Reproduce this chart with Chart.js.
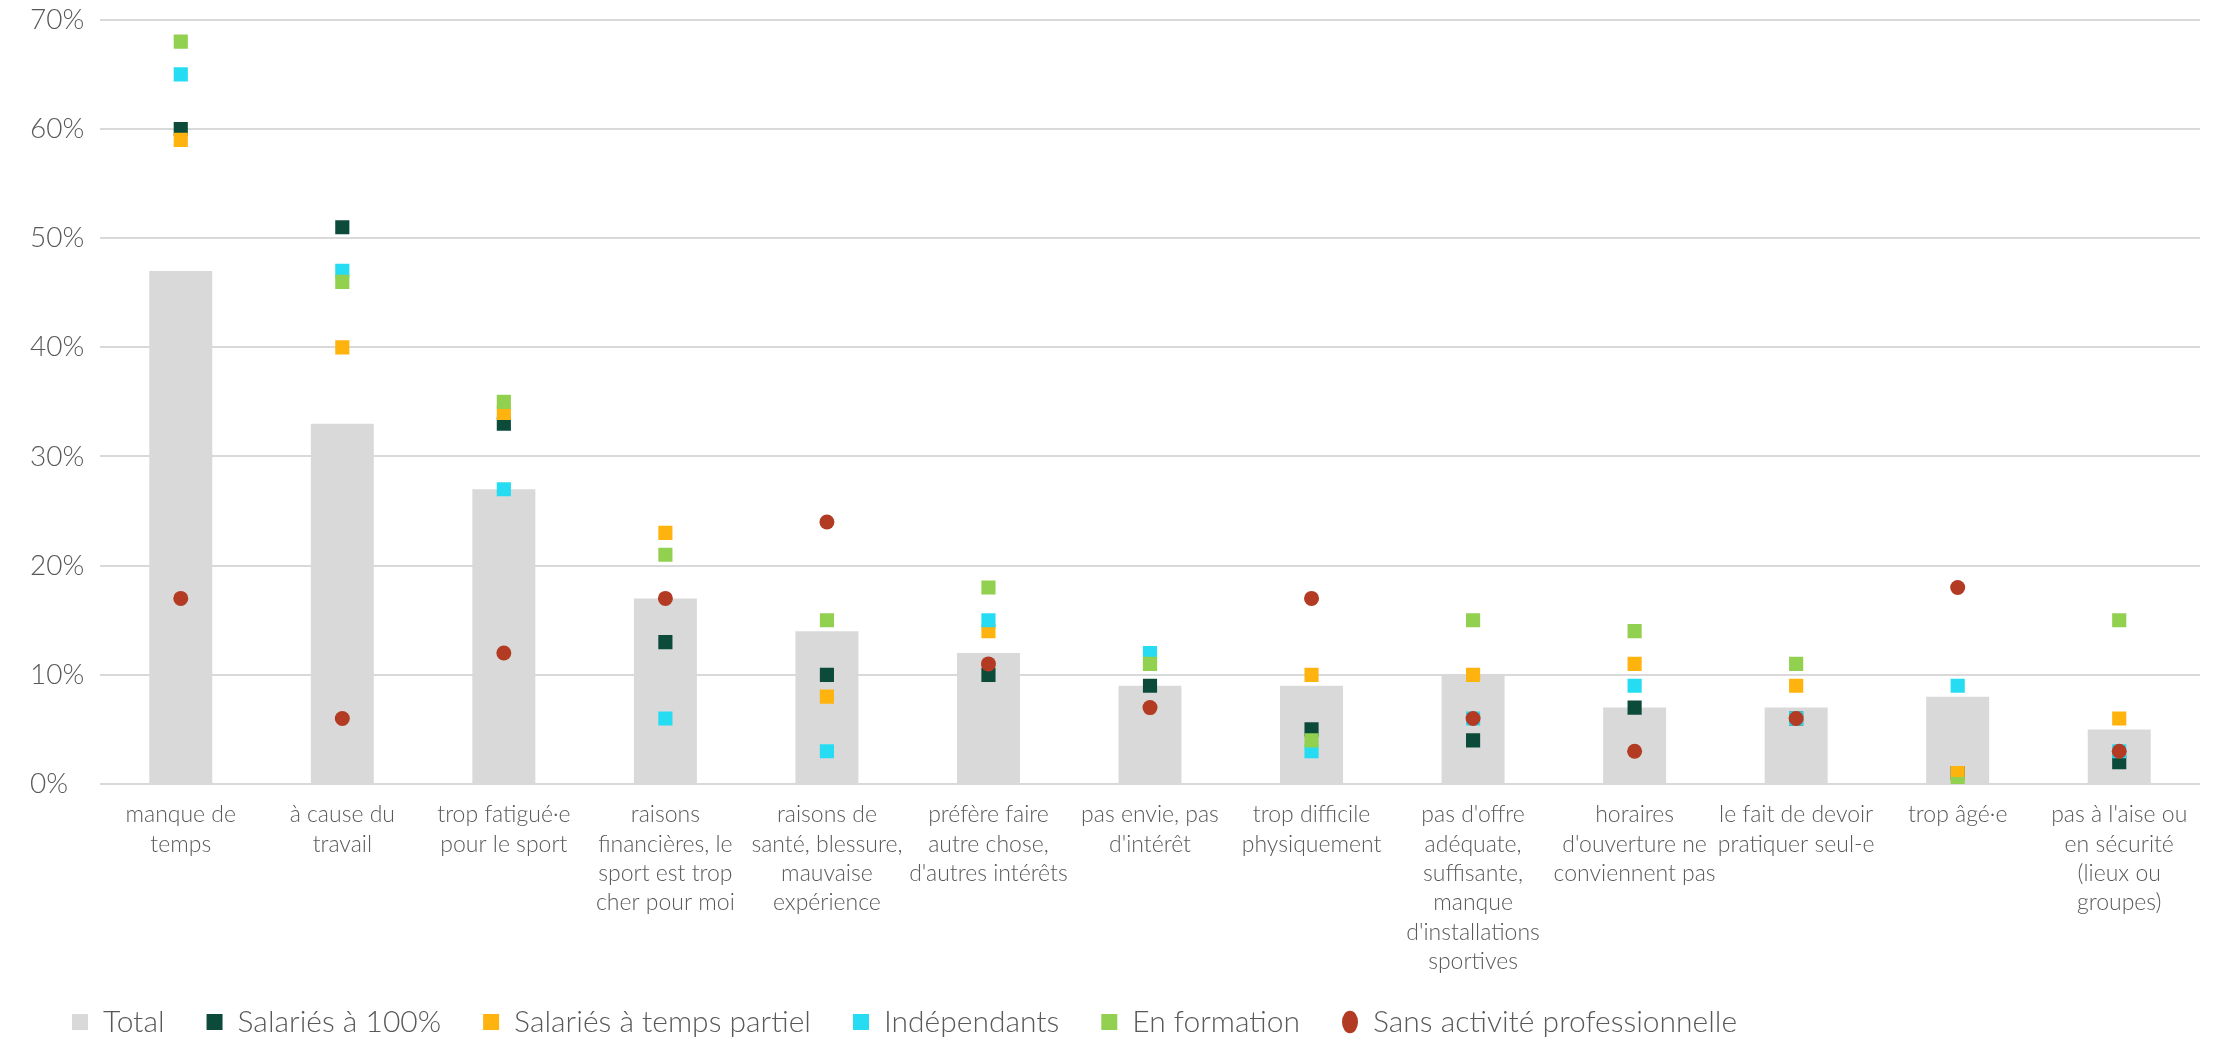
<!DOCTYPE html>
<html>
<head>
<meta charset="utf-8">
<script src="https://cdn.jsdelivr.net/npm/chart.js@4"></script>
<style>
  html, body { margin: 0; padding: 0; background: #ffffff; }
  #wrap { width: 2213px; height: 1041px; }
</style>
</head>
<body>
<div id="wrap"><canvas id="chart"></canvas></div>
<script>
const categories = [
    ["manque de", "temps"],
    ["à cause du", "travail"],
    ["trop fatigué·e", "pour le sport"],
    ["raisons", "financières, le", "sport est trop", "cher pour moi"],
    ["raisons de", "santé, blessure,", "mauvaise", "expérience"],
    ["préfère faire", "autre chose,", "d'autres intérêts"],
    ["pas envie, pas", "d'intérêt"],
    ["trop difficile", "physiquement"],
    ["pas d'offre", "adéquate,", "suffisante,", "manque", "d'installations", "sportives"],
    ["horaires", "d'ouverture ne", "conviennent pas"],
    ["le fait de devoir", "pratiquer seul-e"],
    ["trop âgé·e"],
    ["pas à l'aise ou", "en sécurité", "(lieux ou", "groupes)"]
];

const total        = [47, 33, 27, 17, 14, 12, 9, 9, 10, 7, 7, 8, 5];
const salaries100  = [60, 51, 33, 13, 10, 10, 9, 5, 4, 7, 6, 1, 2];
const tempsPartiel = [59, 40, 34, 23, 8, 14, 11, 10, 10, 11, 9, 1, 6];
const independants = [65, 47, 27, 6, 3, 15, 12, 3, 6, 9, 6, 9, 3];
const enFormation  = [68, 46, 35, 21, 15, 18, 11, 4, 15, 14, 11, 0, 15];
const sansActivite = [17, 6, 12, 17, 24, 11, 7, 17, 6, 3, 6, 18, 3];

const yTicks = [0, 10, 20, 30, 40, 50, 60, 70];

const txt = "#595959";
const fontFamily = "Lato, 'Open Sans', sans-serif";

function pointSeries(label, data, color, style, radius, order) {
    return {
        type: "line",
        label,
        data,
        showLine: false,
        pointStyle: style,
        pointRadius: radius,
        pointHoverRadius: radius,
        backgroundColor: color,
        borderColor: color,
        pointBorderWidth: 0,
        order
    };
}

// short legend box so the long x labels are not clipped, then nudge it into place
const legendPlace = {
    id: "legendPlace",
    afterInit(chart) {
        const lg = chart.legend;
        if (!lg) return;
        const fit = lg.fit;
        lg.fit = function () {
            fit.call(this);
            this.height = 62;
        };
    },
    afterLayout(chart) {
        const lg = chart.legend;
        if (!lg) return;
        lg.top = 965;
        lg.bottom = chart.height;
    }
};

const ctx = document.getElementById("chart").getContext("2d");

new Chart(ctx, {
    data: {
        labels: categories,
        datasets: [
            {
                type: "bar",
                label: "Total",
                data: total,
                backgroundColor: "#d9d9d9",
                pointStyle: "rect",
                barPercentage: 0.39,
                categoryPercentage: 1,
                order: 10
            },
            pointSeries("Salariés à 100%", salaries100, "#0c4a3a", "rect", 10, 5),
            pointSeries("Salariés à temps partiel", tempsPartiel, "#ffb30f", "rect", 10, 4),
            pointSeries("Indépendants", independants, "#25dcf2", "rect", 10, 3),
            pointSeries("En formation", enFormation, "#92d050", "rect", 10, 2),
            pointSeries("Sans activité professionnelle", sansActivite, "#b33a23", "circle", 7.5, 1)
        ]
    },
    plugins: [legendPlace],
    options: {
        responsive: true,
        maintainAspectRatio: false,
        animation: false,
        layout: { padding: { top: 7, left: 30, right: 13, bottom: 0 } },
        plugins: {
            legend: {
                position: "bottom",
                align: "start",
                labels: {
                    color: txt,
                    font: { family: fontFamily, size: 30, weight: "300" },
                    usePointStyle: true,
                    boxWidth: 16,
                    boxHeight: 16,
                    pointStyleWidth: 16,
                    padding: 42,
                    sort: (a, b) => a.datasetIndex - b.datasetIndex
                }
            },
            tooltip: { enabled: false }
        },
        scales: {
            x: {
                grid: { display: false },
                border: { display: false },
                ticks: {
                    color: txt,
                    font: { family: fontFamily, size: 23, weight: "300", lineHeight: 1.28 },
                    maxRotation: 0,
                    autoSkip: false,
                    padding: 8
                },
                afterFit: s => { s.height = 195; }
            },
            y: {
                min: 0,
                max: 70,
                afterBuildTicks: s => { s.ticks = yTicks.map(v => ({ value: v })); },
                grid: { color: "#d9d9d9", lineWidth: 2, drawTicks: false },
                border: { display: false },
                ticks: {
                    color: txt,
                    font: { family: fontFamily, size: 28, weight: "300" },
                    crossAlign: "far",
                    callback: v => v + "%"
                },
                afterFit: s => { s.width = 70; }
            }
        }
    }
});
</script>
</body>
</html>
